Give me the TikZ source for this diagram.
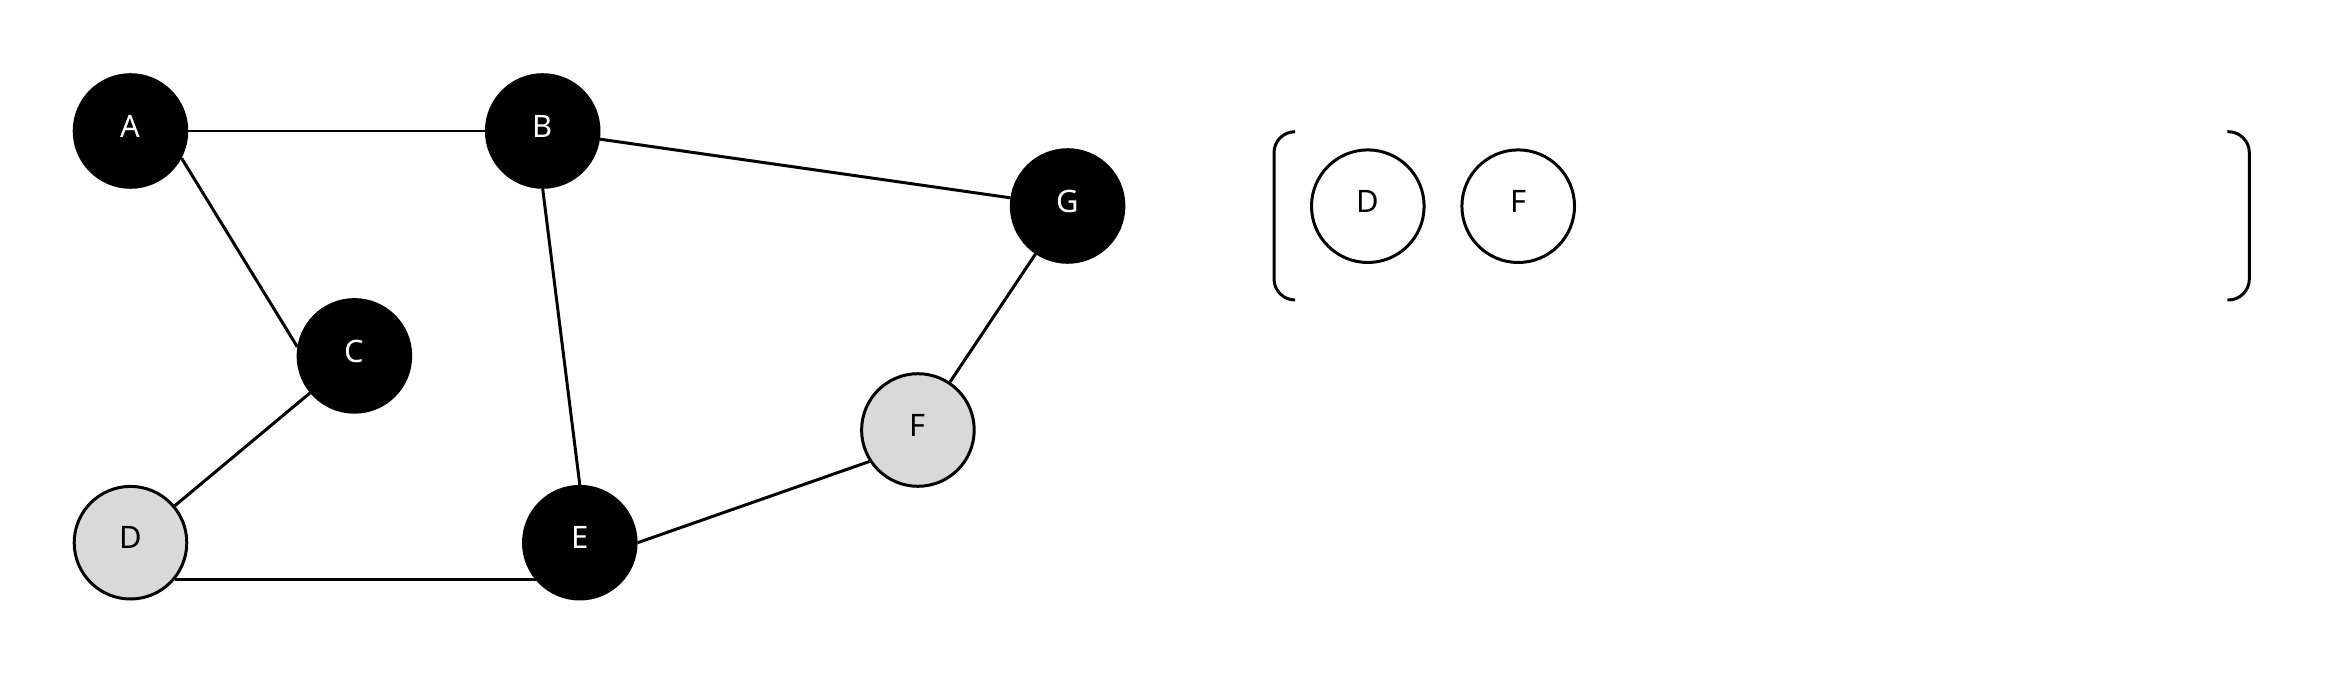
\documentclass[tikz,border=0pt]{standalone}
\usepackage{fontspec}
\setmainfont{Noto Sans}
\begin{document}
\begin{tikzpicture}[
    vertex/.style={circle, draw=black, line width=0.85pt, minimum size=1.126cm, inner sep=0pt, text depth=0.1cm, font=\fontsize{8.8}{10}\selectfont},
    done/.style={vertex, fill=black, text=white},
    seen/.style={vertex, fill=black!15},
    queued/.style={vertex, fill=white},
    edge/.style={line width=0.85pt}]
    \useasboundingbox (0,0) rectangle (23.25,6.75);
    % graph
    \node[done] (A) at (1.305,5.44) {A};
    \node[done] (B) at (5.427,5.44) {B};
    \node[done] (G) at (10.676,4.69) {G};
    \node[done] (C) at (3.544,3.191) {C};
    \node[seen] (F) at (9.179,2.45) {F};
    \node[seen] (D) at (1.305,1.323) {D};
    \node[done] (E) at (5.798,1.323) {E};
    \draw[edge] (A) -- (B);
    \draw[edge] (A.-28) -- (C.171);
    \draw[edge] (B) -- (G);
    \draw[edge] (B.south) -- (E.north);
    \draw[edge] (C) -- (D);
    \draw[edge] (D.-40) -- (E.220);
    \draw[edge] (E.east) -- (F.213.6);
    \draw[edge] (F) -- (G);
    % queue
    \node[queued] (qD) at (13.678,4.688) {D};
    \node[queued] (qF) at (15.182,4.688) {F};
    \draw[edge, rounded corners=0.21cm] (12.95,5.433) -- (12.74,5.433) -- (12.74,3.75) -- (12.95,3.75);
    \draw[edge, rounded corners=0.21cm] (22.273,5.433) -- (22.493,5.433) -- (22.493,3.75) -- (22.273,3.75);
\end{tikzpicture}
\end{document}
